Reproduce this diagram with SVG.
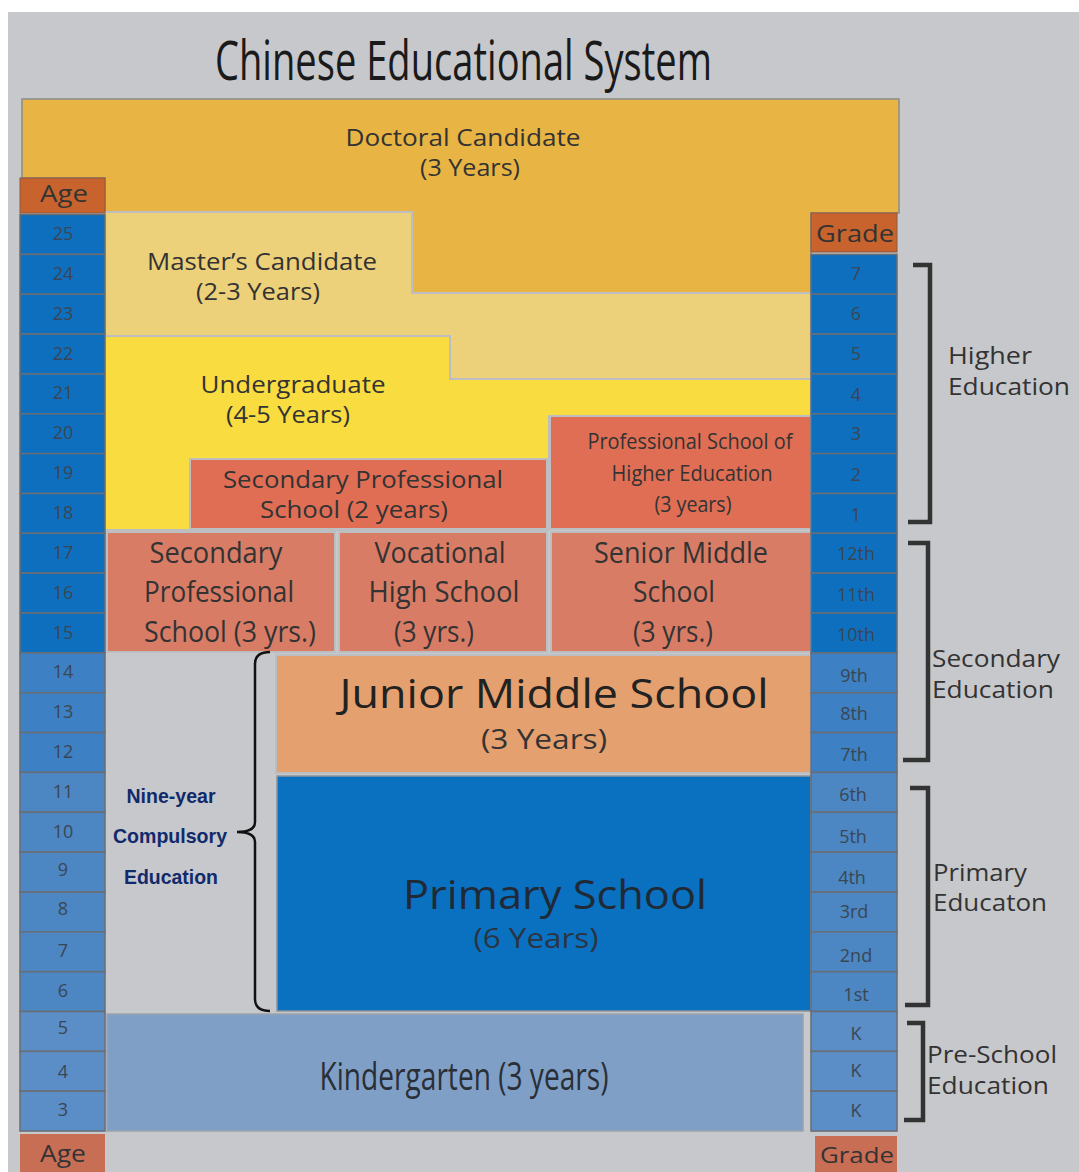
<svg xmlns="http://www.w3.org/2000/svg" width="1079" height="1172" viewBox="0 0 1079 1172">
<style>
.t{font-family:"Open Sans","Liberation Sans",sans-serif;fill:#333;}
.c{text-anchor:middle;}
.cell{stroke:#6a6e74;stroke-width:1.5;}
.b1{fill:#0f6fbf;}
.b2{fill:#3d80c3;}
.b3{fill:#4c86c3;}
.b4{fill:#5b8dc6;}
.n{font-family:"Open Sans","Liberation Sans",sans-serif;font-size:18px;fill:#3a4654;text-anchor:middle;}
.lbl{fill:#c8632d;stroke:#8a5a40;stroke-width:1;}
.lbl2{fill:#c86e55;}
.br{fill:none;stroke:#333;stroke-width:4.5;}
.nine{font-family:"Liberation Sans",Arial,sans-serif;font-weight:bold;font-size:21px;fill:#102a6b;text-anchor:middle;}
</style>
<rect x="0" y="0" width="1079" height="1172" fill="#ffffff"/>
<rect x="8" y="12" width="1071" height="1160" fill="#c7c8cb"/>
<text class="t" x="215" y="80" font-size="54" textLength="497" lengthAdjust="spacingAndGlyphs" style="fill:#1a1a1a">Chinese Educational System</text>

<g id="doctoral">
<polygon points="22,99 899,99 899,213 811,213 811,293 412,293 412,212 105,212 105,178 22,178" fill="#e8b444" stroke="#8a8a8a" stroke-width="1.5"/>
<text class="t c" x="463" y="146" font-size="23" textLength="235" lengthAdjust="spacingAndGlyphs">Doctoral Candidate</text>
<text class="t c" x="470" y="176" font-size="23" textLength="100" lengthAdjust="spacingAndGlyphs">(3 Years)</text>
</g>
<g id="masters">
<polygon points="105,212 412,212 412,293 811,293 811,379 450,379 450,336 105,336" fill="#ecd07a" stroke="#bdbec1" stroke-width="2"/>
<text class="t c" x="262" y="270" font-size="23" textLength="230" lengthAdjust="spacingAndGlyphs">Master’s Candidate</text>
<text class="t c" x="258" y="300" font-size="23" textLength="124" lengthAdjust="spacingAndGlyphs">(2-3 Years)</text>
</g>
<g id="undergraduate">
<polygon points="105,336 450,336 450,379 811,379 811,416 549,416 549,530 105,530" fill="#f9dc40" stroke="#bdbec1" stroke-width="2"/>
<text class="t c" x="293" y="393" font-size="23" textLength="185" lengthAdjust="spacingAndGlyphs">Undergraduate</text>
<text class="t c" x="288" y="423" font-size="23" textLength="124" lengthAdjust="spacingAndGlyphs">(4-5 Years)</text>
</g>
<g id="secprof2">
<rect x="190" y="459" width="357" height="70" fill="#e06e55" stroke="#bdbec1" stroke-width="2"/>
<text class="t c" x="363" y="488" font-size="23" textLength="280" lengthAdjust="spacingAndGlyphs">Secondary Professional</text>
<text class="t c" x="354" y="518" font-size="23" textLength="188" lengthAdjust="spacingAndGlyphs">School (2 years)</text>
</g>
<g id="profhigher">
<rect x="550" y="416" width="261" height="113" fill="#e06e55" stroke="#bdbec1" stroke-width="2"/>
<text class="t c" x="690" y="449" font-size="22" textLength="205" lengthAdjust="spacingAndGlyphs">Professional School of</text>
<text class="t c" x="692" y="481" font-size="22" textLength="161" lengthAdjust="spacingAndGlyphs">Higher Education</text>
<text class="t c" x="693" y="512" font-size="22" textLength="77" lengthAdjust="spacingAndGlyphs">(3 years)</text>
</g>
<g id="secprof3">
<rect x="107" y="532" width="228" height="120" fill="#d97c66" stroke="#bdbec1" stroke-width="2"/>
<text class="t c" x="216" y="563" font-size="30" textLength="133" lengthAdjust="spacingAndGlyphs">Secondary</text>
<text class="t c" x="219" y="602" font-size="30" textLength="150" lengthAdjust="spacingAndGlyphs">Professional</text>
<text class="t c" x="230" y="642" font-size="30" textLength="172" lengthAdjust="spacingAndGlyphs">School (3 yrs.)</text>
</g>
<g id="vocational">
<rect x="339" y="532" width="208" height="120" fill="#d97c66" stroke="#bdbec1" stroke-width="2"/>
<text class="t c" x="440" y="563" font-size="30" textLength="131" lengthAdjust="spacingAndGlyphs">Vocational</text>
<text class="t c" x="444" y="602" font-size="30" textLength="151" lengthAdjust="spacingAndGlyphs">High School</text>
<text class="t c" x="434" y="642" font-size="30" textLength="80" lengthAdjust="spacingAndGlyphs">(3 yrs.)</text>
</g>
<g id="seniormiddle">
<rect x="551" y="532" width="260" height="120" fill="#d97c66" stroke="#bdbec1" stroke-width="2"/>
<text class="t c" x="681" y="563" font-size="30" textLength="174" lengthAdjust="spacingAndGlyphs">Senior Middle</text>
<text class="t c" x="674" y="602" font-size="30" textLength="82" lengthAdjust="spacingAndGlyphs">School</text>
<text class="t c" x="673" y="642" font-size="30" textLength="80" lengthAdjust="spacingAndGlyphs">(3 yrs.)</text>
</g>
<g id="junior">
<rect x="276" y="655" width="535" height="118" fill="#e4a06e" stroke="#bdbec1" stroke-width="2"/>
<text class="t c" x="554" y="708" font-size="41" textLength="429" lengthAdjust="spacingAndGlyphs" style="fill:#222">Junior Middle School</text>
<text class="t c" x="544" y="749" font-size="28" textLength="126" lengthAdjust="spacingAndGlyphs">(3 Years)</text>
</g>
<g id="primary">
<rect x="277" y="776" width="534" height="235" fill="#0a71c1" stroke="#8f9398" stroke-width="1.5"/>
<text class="t c" x="555" y="909" font-size="41" textLength="304" lengthAdjust="spacingAndGlyphs" style="fill:#1f2a36">Primary School</text>
<text class="t c" x="536" y="948" font-size="28" textLength="125" lengthAdjust="spacingAndGlyphs" style="fill:#2a3442">(6 Years)</text>
</g>
<g id="kindergarten">
<rect x="107" y="1014" width="696" height="117" fill="#809fc7" stroke="#9aa3ad" stroke-width="1.5"/>
<text class="t c" x="464" y="1090" font-size="38" textLength="289" lengthAdjust="spacingAndGlyphs" style="fill:#2a2f36">Kindergarten (3 years)</text>
</g>

<g id="age-column">
<rect class="lbl" x="20" y="178" width="85" height="35"/>
<text class="t c" x="64" y="202" font-size="24" textLength="48" lengthAdjust="spacingAndGlyphs">Age</text>
<rect class="cell b1" x="20" y="214.5" width="85" height="39.85"/><text class="n" x="63" y="240">25</text>
<rect class="cell b1" x="20" y="254.4" width="85" height="39.85"/><text class="n" x="63" y="280">24</text>
<rect class="cell b1" x="20" y="294.2" width="85" height="39.85"/><text class="n" x="63" y="320">23</text>
<rect class="cell b1" x="20" y="334.1" width="85" height="39.85"/><text class="n" x="63" y="360">22</text>
<rect class="cell b1" x="20" y="373.9" width="85" height="39.85"/><text class="n" x="63" y="399">21</text>
<rect class="cell b1" x="20" y="413.8" width="85" height="39.85"/><text class="n" x="63" y="439">20</text>
<rect class="cell b1" x="20" y="453.6" width="85" height="39.85"/><text class="n" x="63" y="479">19</text>
<rect class="cell b1" x="20" y="493.5" width="85" height="39.85"/><text class="n" x="63" y="519">18</text>
<rect class="cell b1" x="20" y="533.3" width="85" height="39.85"/><text class="n" x="63" y="559">17</text>
<rect class="cell b1" x="20" y="573.2" width="85" height="39.85"/><text class="n" x="63" y="599">16</text>
<rect class="cell b1" x="20" y="613.0" width="85" height="39.85"/><text class="n" x="63" y="639">15</text>
<rect class="cell b2" x="20" y="652.9" width="85" height="39.85"/><text class="n" x="63" y="678">14</text>
<rect class="cell b2" x="20" y="692.7" width="85" height="39.85"/><text class="n" x="63" y="718">13</text>
<rect class="cell b2" x="20" y="732.6" width="85" height="39.85"/><text class="n" x="63" y="758">12</text>
<rect class="cell b3" x="20" y="772.4" width="85" height="39.85"/><text class="n" x="63" y="798">11</text>
<rect class="cell b3" x="20" y="812.3" width="85" height="39.85"/><text class="n" x="63" y="838">10</text>
<rect class="cell b3" x="20" y="852.1" width="85" height="39.85"/><text class="n" x="63" y="876">9</text>
<rect class="cell b3" x="20" y="892.0" width="85" height="39.85"/><text class="n" x="63" y="915">8</text>
<rect class="cell b3" x="20" y="931.8" width="85" height="39.85"/><text class="n" x="63" y="957">7</text>
<rect class="cell b3" x="20" y="971.7" width="85" height="39.85"/><text class="n" x="63" y="997">6</text>
<rect class="cell b4" x="20" y="1011.5" width="85" height="39.85"/><text class="n" x="63" y="1034">5</text>
<rect class="cell b4" x="20" y="1051.4" width="85" height="39.85"/><text class="n" x="63" y="1078">4</text>
<rect class="cell b4" x="20" y="1091.2" width="85" height="39.85"/><text class="n" x="63" y="1116">3</text>
<rect class="lbl2" x="20" y="1134" width="85" height="38"/>
<text class="t c" x="63" y="1162" font-size="23" textLength="46" lengthAdjust="spacingAndGlyphs">Age</text>
</g>

<g id="grade-column">
<rect class="lbl" x="811" y="213" width="86" height="39"/>
<text class="t c" x="855" y="242" font-size="23" textLength="78" lengthAdjust="spacingAndGlyphs">Grade</text>
<rect class="cell b1" x="811" y="254.4" width="86" height="39.85"/><text class="n" x="856" y="280">7</text>
<rect class="cell b1" x="811" y="294.2" width="86" height="39.85"/><text class="n" x="856" y="320">6</text>
<rect class="cell b1" x="811" y="334.1" width="86" height="39.85"/><text class="n" x="856" y="360">5</text>
<rect class="cell b1" x="811" y="373.9" width="86" height="39.85"/><text class="n" x="856" y="401">4</text>
<rect class="cell b1" x="811" y="413.8" width="86" height="39.85"/><text class="n" x="856" y="440">3</text>
<rect class="cell b1" x="811" y="453.6" width="86" height="39.85"/><text class="n" x="856" y="481">2</text>
<rect class="cell b1" x="811" y="493.5" width="86" height="39.85"/><text class="n" x="856" y="521">1</text>
<rect class="cell b1" x="811" y="533.3" width="86" height="39.85"/><text class="n" x="856" y="560">12th</text>
<rect class="cell b1" x="811" y="573.2" width="86" height="39.85"/><text class="n" x="856" y="601">11th</text>
<rect class="cell b1" x="811" y="613.0" width="86" height="39.85"/><text class="n" x="856" y="641">10th</text>
<rect class="cell b2" x="811" y="652.9" width="86" height="39.85"/><text class="n" x="854" y="682">9th</text>
<rect class="cell b2" x="811" y="692.7" width="86" height="39.85"/><text class="n" x="854" y="720">8th</text>
<rect class="cell b2" x="811" y="732.6" width="86" height="39.85"/><text class="n" x="854" y="761">7th</text>
<rect class="cell b3" x="811" y="772.4" width="86" height="39.85"/><text class="n" x="853" y="801">6th</text>
<rect class="cell b3" x="811" y="812.3" width="86" height="39.85"/><text class="n" x="853" y="843">5th</text>
<rect class="cell b3" x="811" y="852.1" width="86" height="39.85"/><text class="n" x="852" y="884">4th</text>
<rect class="cell b3" x="811" y="892.0" width="86" height="39.85"/><text class="n" x="854" y="918">3rd</text>
<rect class="cell b3" x="811" y="931.8" width="86" height="39.85"/><text class="n" x="856" y="962">2nd</text>
<rect class="cell b3" x="811" y="971.7" width="86" height="39.85"/><text class="n" x="856" y="1001">1st</text>
<rect class="cell b4" x="811" y="1011.5" width="86" height="39.85"/><text class="n" x="856" y="1040">K</text>
<rect class="cell b4" x="811" y="1051.4" width="86" height="39.85"/><text class="n" x="856" y="1077">K</text>
<rect class="cell b4" x="811" y="1091.2" width="86" height="39.85"/><text class="n" x="856" y="1117">K</text>
<rect class="lbl2" x="815" y="1136" width="82" height="36"/>
<text class="t c" x="857" y="1163" font-size="22" textLength="74" lengthAdjust="spacingAndGlyphs">Grade</text>
</g>

<g id="connectors">
<path class="br" d="M913,265 H930 V522 H908"/>
<path class="br" d="M908,543 H928 V760 H903"/>
<path class="br" d="M910,788 H928 V1005 H905"/>
<path class="br" d="M907,1023 H923 V1120 H904"/>
<path d="M270,652 Q255,652 255,664 V822 Q255,832 237,832 Q255,832 255,842 V999 Q255,1011 270,1011" fill="none" stroke="#111" stroke-width="2.5"/>
</g>

<g id="nine-year-label">
<text class="nine" x="171" y="803" textLength="89" lengthAdjust="spacingAndGlyphs">Nine-year</text>
<text class="nine" x="170" y="843" textLength="114" lengthAdjust="spacingAndGlyphs">Compulsory</text>
<text class="nine" x="171" y="884" textLength="94" lengthAdjust="spacingAndGlyphs">Education</text>
</g>
<g id="higher-label">
<text class="t" x="948" y="364" font-size="23" textLength="84" lengthAdjust="spacingAndGlyphs">Higher</text>
<text class="t" x="948" y="395" font-size="23" textLength="122" lengthAdjust="spacingAndGlyphs">Education</text>
</g>
<g id="secondary-label">
<text class="t" x="932" y="667" font-size="23" textLength="128" lengthAdjust="spacingAndGlyphs">Secondary</text>
<text class="t" x="932" y="698" font-size="23" textLength="122" lengthAdjust="spacingAndGlyphs">Education</text>
</g>
<g id="primary-label">
<text class="t" x="933" y="881" font-size="23" textLength="94" lengthAdjust="spacingAndGlyphs">Primary</text>
<text class="t" x="933" y="911" font-size="23" textLength="114" lengthAdjust="spacingAndGlyphs">Educaton</text>
</g>
<g id="preschool-label">
<text class="t" x="927" y="1063" font-size="23" textLength="130" lengthAdjust="spacingAndGlyphs">Pre-School</text>
<text class="t" x="927" y="1094" font-size="23" textLength="122" lengthAdjust="spacingAndGlyphs">Education</text>
</g>
</svg>
